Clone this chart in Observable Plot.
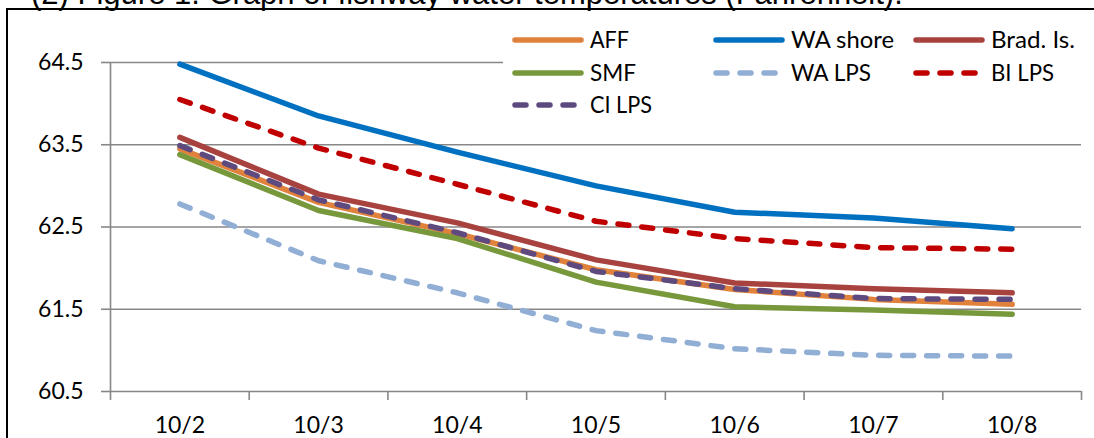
<!DOCTYPE html>
<html>
<head>
<meta charset="utf-8">
<script src="https://cdn.jsdelivr.net/npm/d3@7"></script>
<script src="https://cdn.jsdelivr.net/npm/@observablehq/plot@0.6"></script>
<style>
  html, body { margin: 0; padding: 0; background: #fff; overflow: hidden; }
  #page { position: relative; width: 1094px; height: 438px; overflow: hidden; }
  #title { position: relative; height: 8px; }
  #title span { position: absolute; left: 31px; top: -22px; font-family: "Liberation Sans", Arial, sans-serif; font-size: 31px; line-height: 31px; white-space: nowrap; color: #000; }
  #frame { margin-left: 6px; width: 1086px; border-top: 2px solid #000; border-left: 2px solid #000; }
  #frame svg { display: block; }
  #legend { position: absolute; left: 503px; top: 22px; width: 591px; height: 100px; background: #fff; }
  #legend svg.item { position: absolute; overflow: visible; }
</style>
</head>
<body>
<div id="page">
  <div id="title"><span>(2) Figure 1. Graph of fishway water temperatures (Fahrenheit).</span></div>
  <div id="frame"></div>
  <div id="legend"></div>
</div>
<script>
const dates = ["10/2", "10/3", "10/4", "10/5", "10/6", "10/7", "10/8"];
const seriesNames = ["AFF", "WA shore", "Brad. Is.", "SMF", "WA LPS", "BI LPS", "CI LPS"];
const AFF      = [63.45, 62.80, 62.42, 61.98, 61.74, 61.62, 61.56];
const WA_shore = [64.48, 63.85, 63.41, 63.00, 62.68, 62.61, 62.48];
const Brad_Is  = [63.59, 62.90, 62.55, 62.10, 61.82, 61.75, 61.70];
const SMF      = [63.38, 62.70, 62.36, 61.83, 61.53, 61.49, 61.44];
const WA_LPS   = [62.78, 62.09, 61.70, 61.24, 61.02, 60.94, 60.93];
const BI_LPS   = [64.05, 63.46, 63.02, 62.57, 62.36, 62.25, 62.23];
const CI_LPS   = [63.49, 62.83, 62.43, 61.96, 61.75, 61.63, 61.62];
const yTicks = [60.5, 61.5, 62.5, 63.5, 64.5];

const seriesValues = [AFF, WA_shore, Brad_Is, SMF, WA_LPS, BI_LPS, CI_LPS];
const colors = ["#E0823B", "#0070C0", "#A8423F", "#78983C", "#91AED5", "#C00000", "#5E4A7E"];
const dashed = [false, false, false, false, true, true, true];
const DASH = "11,13";

const rows = [];
seriesNames.forEach((name, s) => {
  seriesValues[s].forEach((v, i) => rows.push({series: name, date: dates[i], pos: i + 0.5, value: v}));
});

const lineMarks = seriesNames.map((name, s) =>
  Plot.line(rows.filter(r => r.series === name), {
    x: "pos", y: "value",
    stroke: colors[s], strokeWidth: 5.5,
    strokeDasharray: dashed[s] ? DASH : null,
    strokeLinecap: "round", strokeLinejoin: "round"
  })
);

const chart = Plot.plot({
  width: 1086,
  height: 428,
  marginLeft: 102,
  marginRight: 13,
  marginTop: 52,
  marginBottom: 47,
  style: {fontFamily: "Lato, sans-serif", fontSize: "23px", color: "#000", background: "transparent"},
  x: {type: "linear", domain: [0, dates.length]},
  y: {domain: [60.5, 64.5]},
  marks: [
    Plot.gridY({ticks: yTicks, stroke: "#878787", strokeOpacity: 1, strokeWidth: 1.6}),
    Plot.ruleX([0], {stroke: "#878787", strokeWidth: 1.6}),
    Plot.axisY({ticks: yTicks, tickSize: 9, tickPadding: 18, tickFormat: d3.format(".1f"),
      stroke: "#878787", strokeWidth: 1.6, fill: "#000", label: null, fontSize: 23}),
    Plot.axisX({ticks: d3.range(dates.length + 1), tickSize: 9, tickFormat: () => "",
      stroke: "#878787", strokeWidth: 1.6, label: null}),
    Plot.axisX({ticks: dates.map((d, i) => i + 0.5), tickSize: 0, tickPadding: 25,
      tickFormat: v => dates[Math.floor(v)], fill: "#000", label: null, fontSize: 23}),
    ...lineMarks
  ]
});
document.getElementById("frame").appendChild(chart);

// legend (3 columns, filled row by row)
const legend = document.getElementById("legend");
const colX = [9, 210, 410];          // column offsets inside the legend box
const rowY = [3, 36, 68];            // row offsets inside the legend box
const labelWidths = [39, 103, 84, 46, 80, 63, 62]; // rendered label widths
const ns = "http://www.w3.org/2000/svg";
seriesNames.forEach((name, s) => {
  const col = s % 3, row = Math.floor(s / 3);
  const svg = document.createElementNS(ns, "svg");
  svg.setAttribute("class", "item");
  svg.setAttribute("width", 80 + labelWidths[s] + 6);
  svg.setAttribute("height", 30);
  svg.style.left = colX[col] + "px";
  svg.style.top = rowY[row] + "px";
  const ln = document.createElementNS(ns, "line");
  ln.setAttribute("x1", 3); ln.setAttribute("x2", 69);
  ln.setAttribute("y1", 15); ln.setAttribute("y2", 15);
  ln.setAttribute("stroke", colors[s]);
  ln.setAttribute("stroke-width", 5.5);
  ln.setAttribute("stroke-linecap", "round");
  if (dashed[s]) ln.setAttribute("stroke-dasharray", DASH);
  svg.appendChild(ln);
  const tx = document.createElementNS(ns, "text");
  tx.setAttribute("x", 78);
  tx.setAttribute("y", 23.3);
  tx.setAttribute("font-family", "Lato, sans-serif");
  tx.setAttribute("font-size", 23);
  tx.setAttribute("fill", "#000");
  tx.setAttribute("textLength", labelWidths[s]);
  tx.setAttribute("lengthAdjust", "spacingAndGlyphs");
  tx.textContent = name;
  svg.appendChild(tx);
  legend.appendChild(svg);
});
</script>
</body>
</html>
